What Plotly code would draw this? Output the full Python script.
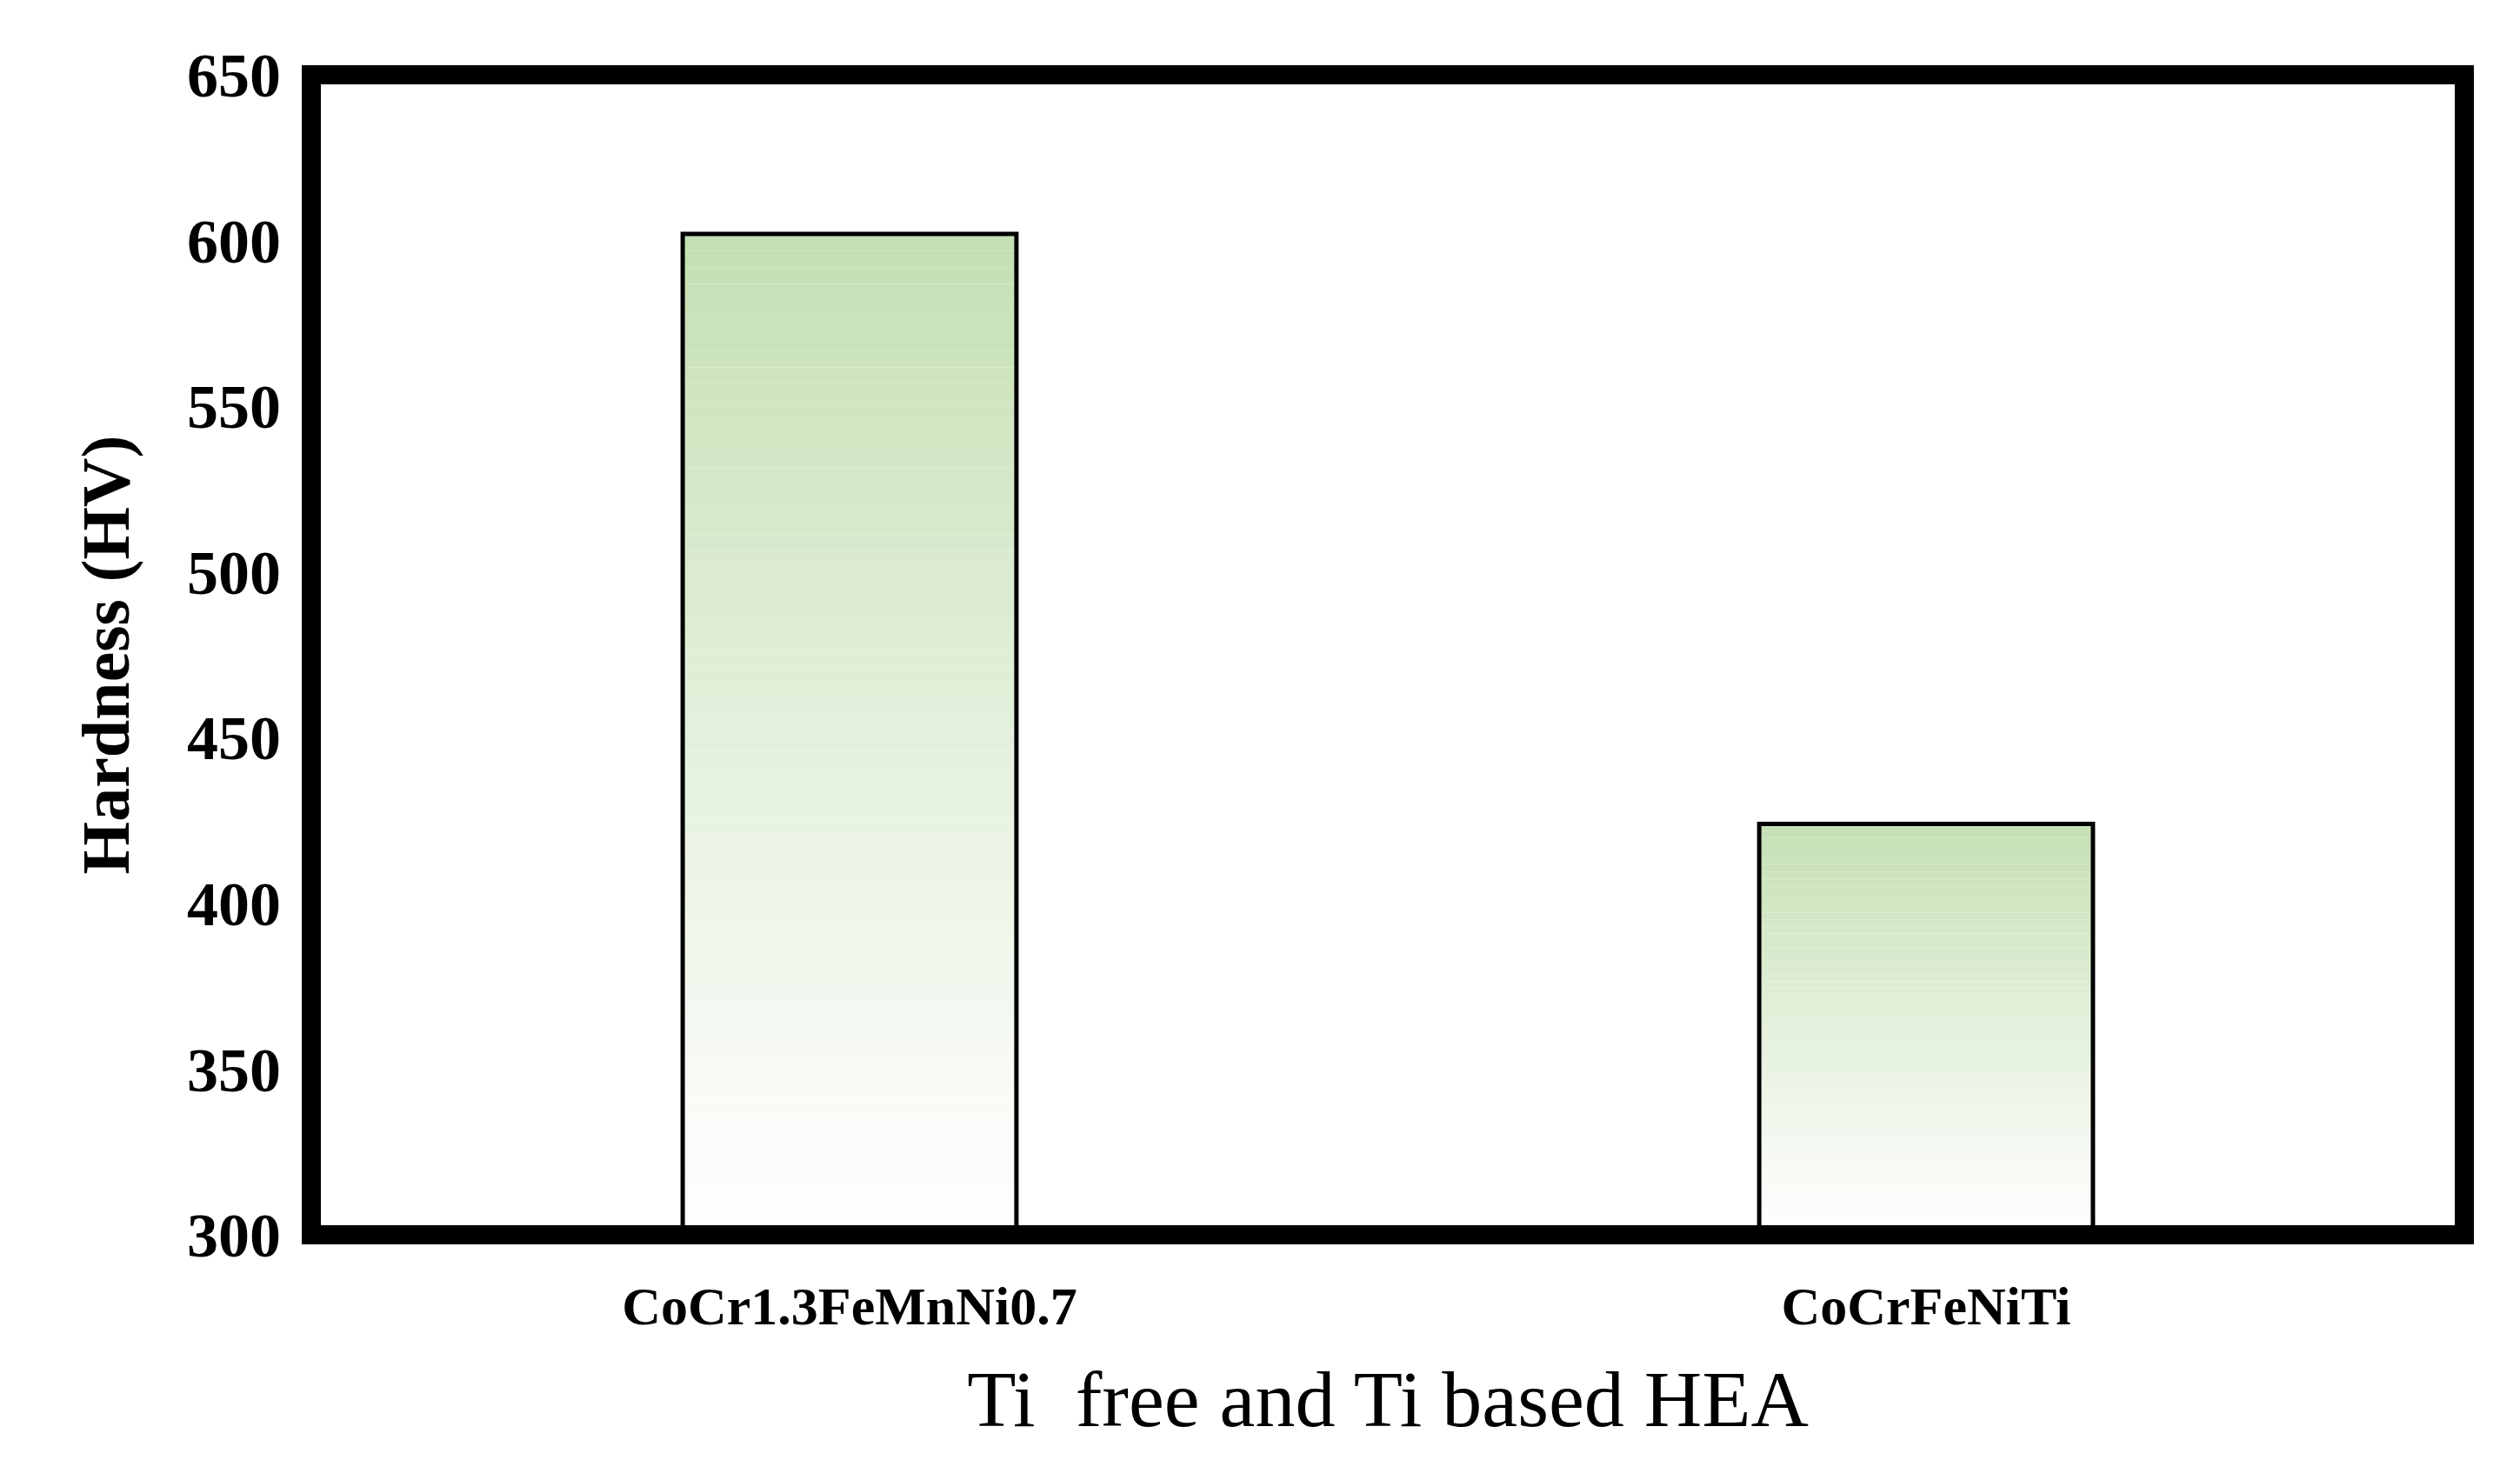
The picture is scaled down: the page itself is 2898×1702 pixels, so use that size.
import numpy as np
import plotly.graph_objects as go

categories = ["CoCr1.3FeMnNi0.7", "CoCrFeNiTi"]
hardness = [602, 424]
y_ticks = [300, 350, 400, 450, 500, 550, 600, 650]

base = 300
n_steps = 60
top_rgb = np.array([197, 224, 180])
white = np.array([255, 255, 255])

fig = go.Figure()

# gradient fill: stack thin slices from the baseline to each value
for i in range(n_steps):
    frac = (i + 0.5) / n_steps
    # colour fades to white towards the bottom
    c = white + (top_rgb - white) * frac ** 1.1
    colour = "rgb(%d,%d,%d)" % tuple(c)
    fig.add_trace(go.Bar(
        x=categories,
        y=[(v - base) / n_steps for v in hardness],
        base=[base + (v - base) * i / n_steps for v in hardness],
        width=0.31,
        marker=dict(color=colour, line=dict(width=0)),
        showlegend=False, hoverinfo="skip",
    ))

# outline
fig.add_trace(go.Bar(
    x=categories, y=[v - base for v in hardness], base=base, width=0.31,
    marker=dict(color="rgba(0,0,0,0)", line=dict(color="black", width=5)),
    showlegend=False,
))

fig.update_layout(
    width=2898, height=1702, barmode="overlay",
    plot_bgcolor="white", paper_bgcolor="white",
    margin=dict(l=350, r=72, t=78, b=290),
    font=dict(family="Liberation Serif", color="black"),
    xaxis=dict(range=[-0.5, 1.5], showgrid=False, zeroline=False,
               tickfont=dict(size=62, family="Liberation Serif"),
               ticklabelstandoff=40,
               tickvals=categories, ticktext=["<b>%s</b>" % c for c in categories],
               title=dict(text="Ti  free and Ti based HEA", font=dict(size=92), standoff=40)),
    yaxis=dict(range=[300, 650], tickvals=y_ticks, showgrid=False, zeroline=False,
               ticktext=["<b>%d</b>" % t for t in y_ticks],
               tickfont=dict(size=72), ticklabelstandoff=34,
               title=dict(text="<b>Hardness (HV)</b>", font=dict(size=78), standoff=40)),
    shapes=[dict(type="rect", xref="paper", yref="paper", x0=0, x1=1, y0=0, y1=1,
                 line=dict(color="black", width=22))],
)

fig.write_html("out.html")
